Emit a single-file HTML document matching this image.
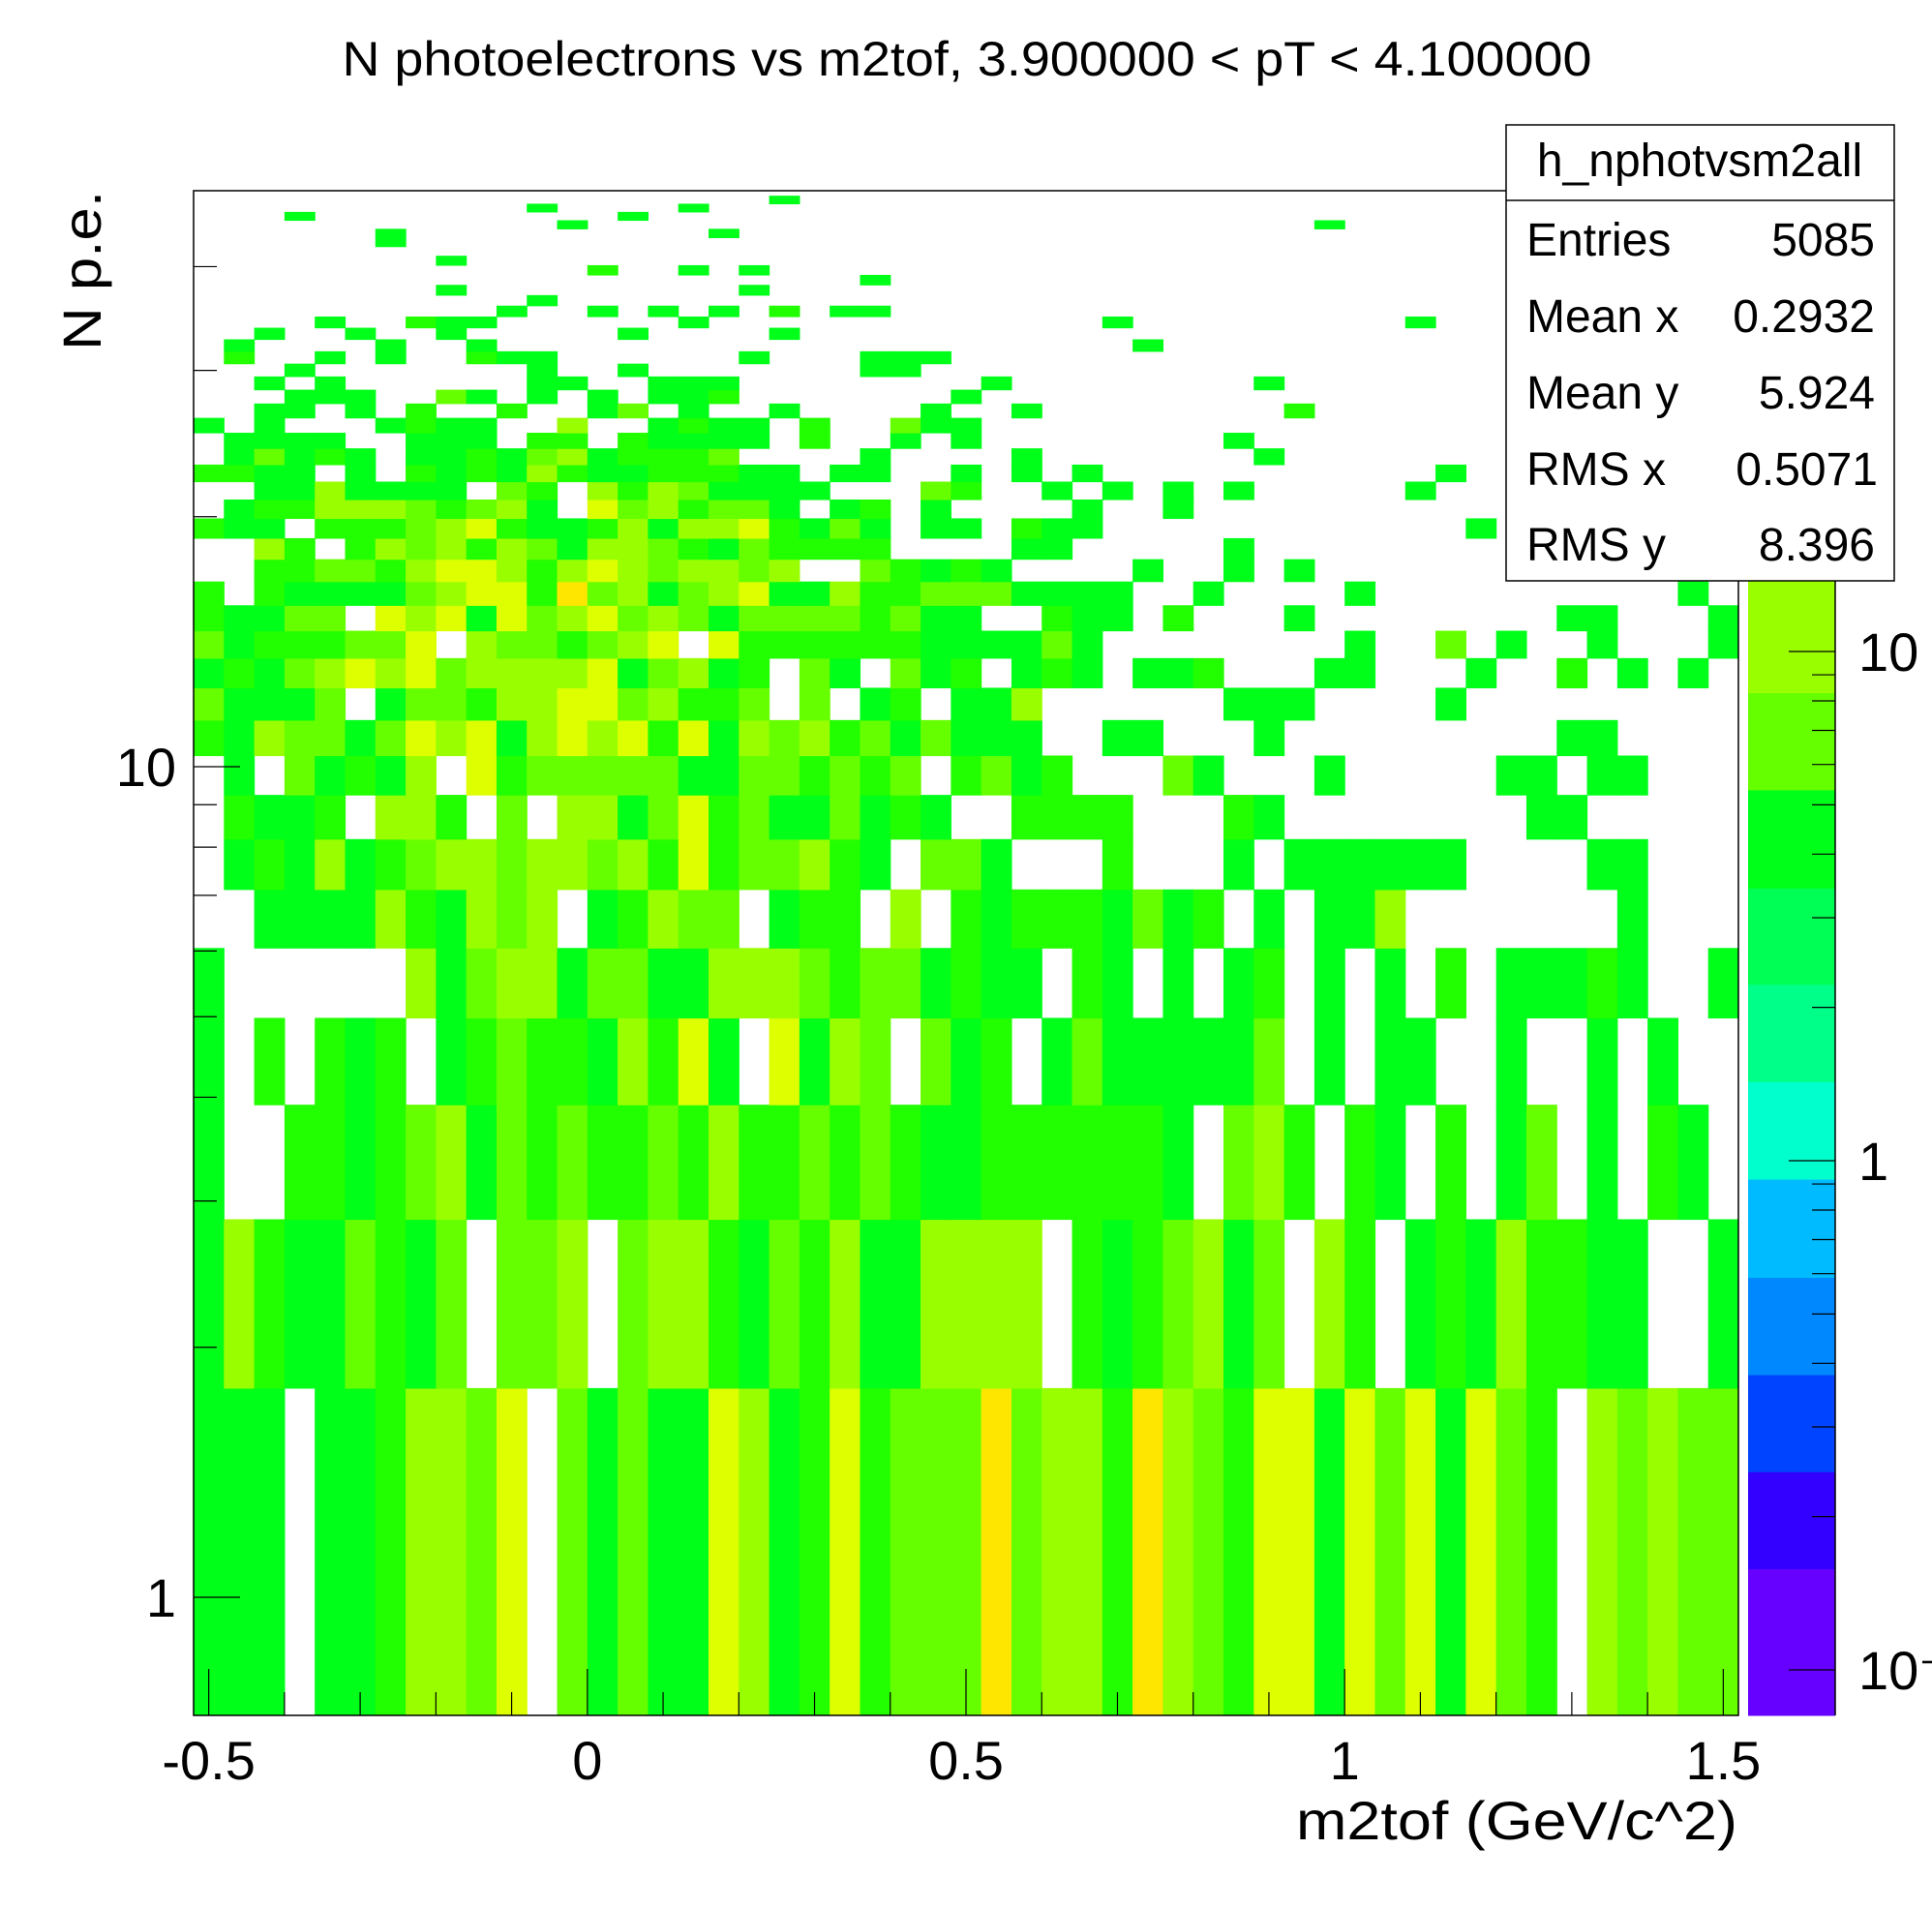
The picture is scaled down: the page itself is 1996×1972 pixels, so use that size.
<!DOCTYPE html>
<html><head><meta charset="utf-8"><style>
html,body{margin:0;padding:0;background:#fff;}
svg{display:block;font-family:"Liberation Sans",Arial,sans-serif;}
</style></head><body>
<svg id="chart" width="1996" height="1972" viewBox="0 0 1996 1972" xmlns="http://www.w3.org/2000/svg">
<defs><clipPath id="plotclip"><rect x="200" y="197" width="1596" height="1575"/></clipPath></defs>
<rect x="0" y="0" width="1996" height="1972" fill="#fff"/>
<text x="999" y="78" font-size="50" text-anchor="middle" textLength="1291" lengthAdjust="spacingAndGlyphs">N photoelectrons vs m2tof, 3.900000 &lt; pT &lt; 4.100000</text>
<g id="cells" clip-path="url(#plotclip)"></g>
<g id="cbar"></g>
<rect x="200" y="197" width="1596" height="1575" fill="none" stroke="#000" stroke-width="1.5"/>
<g id="axes"></g>
<text x="1795" y="1900" font-size="56" text-anchor="end" textLength="456" lengthAdjust="spacingAndGlyphs">m2tof (GeV/c^2)</text>
<text transform="translate(104,197) rotate(-90)" x="0" y="0" font-size="56" text-anchor="end" textLength="165" lengthAdjust="spacingAndGlyphs">N p.e.</text>
<g>
<rect x="1556" y="129" width="401" height="471" fill="#fff" stroke="#000" stroke-width="1.5"/>
<line x1="1556" y1="207" x2="1957" y2="207" stroke="#000" stroke-width="1.5"/>
<text x="1756" y="182" font-size="48" text-anchor="middle">h_nphotvsm2all</text>
<text x="1577" y="264" font-size="48">Entries</text>
<text x="1937" y="264" font-size="48" text-anchor="end">5085</text>
<text x="1577" y="343" font-size="48">Mean x</text>
<text x="1937" y="343" font-size="48" text-anchor="end">0.2932</text>
<text x="1577" y="422" font-size="48">Mean y</text>
<text x="1937" y="422" font-size="48" text-anchor="end">5.924</text>
<text x="1577" y="501" font-size="48">RMS x</text>
<text x="1940" y="501" font-size="48" text-anchor="end">0.5071</text>
<text x="1577" y="579" font-size="48">RMS y</text>
<text x="1937" y="579" font-size="48" text-anchor="end">8.396</text>
</g>
</svg>
<script>
// x bins
const xBinsMin = -0.52;
const xBinWidth = 0.04;
// y bins
const yBinsMin = 0.72;
const yBinWidth = 1.066;
// colour levels (index = level code)
const levelColors = ["none","#00ff19","#22ff00","#66ff00","#99ff00","#ddff00","#ffe600"];
// colour bar bands (bottom to top)
const cbarColors = ["#6600ff","#3300ff","#0044ff","#0088ff","#00bbff","#00ffcc","#00ff88","#00ff55","#00ff19","#66ff00","#99ff00","#ddff00","#ffe600","#ffaa00"];
const cbarEdges = [0.0814,0.158,0.245,0.38,0.59,0.92,1.43,2.22,3.43,5.35,8.3,16,24,36,80];
const xTickLabels = ["-0.5","0","0.5","1","1.5"];
const xTickValues = [-0.5,0,0.5,1,1.5];
const yTickLabels = ["1","10"];
const yTickValues = [1,10];
const zTickLabels = ["10\u207B\u00B9","1","10"];
const zTickValues = [0.1,1,10];
// heatmap level codes per row (row 0 = lowest N p.e. bin), one char per m2tof bin
const rowsData = [
"111.112443|5.31311541|2523336344|2643255153|51532.4343|3",
"142113213.|334.344213|24114444.2|123413.42.|12142211..|1",
"1..2212341|3232232422|3232112222|221.342.21|.2.13.1.21|.",
"1.2.212.12|32214251.5|143.312.13|111113.1.1|1..1..1.1.|.",
"1......413|4413311444|32331211.2|1.1.12.1.1|.2.11121..|1",
"..11114214|34.12433.1|22.4.21222|1312.1.114|.......1..|.",
".121412344|3443425233|421.331...|2...1.1111|11....11..|.",
".2112.442.|3.44135231|13121..222|2...21....|....11....|.",
".1.31214.5|2333331133|2323.2312.|..31...1..|...11.11..|.",
"2143313545|1454525143|42313111..|11...1....|.....11...|.",
"31113.1332|445534223.|3.12.114..|....111...|.1........|.",
"1213454534|444513412.|31.312.121|.112...11.|..1..2.1.1|.",
"31222335.4|332345.522|2222111131|........1.|.3.1..1...|1",
"21133.5451|5345343133|332311..21|1.2...1...|.....11...|1",
"2.21111345|5263413451|1422333111|1..1....1.|.........1|.",
"..22332455|4245434434|..32121...|.1..1.1...|..........|.",
"..42.24342|4314432132|222....11.|....1.....|..........|.",
"211.222345|2112414452|131.11.211|..........|..1.......|.",
".122444323|41.5342331|.12.1....1|..1.......|..........|.",
"..1141111.|32.4243111|1...32..1.|1.1.1.....|1.........|.",
"2211.1.212|1421122211|.11..1.1.1|..........|.1........|.",
".13121.112|13412223..|..1....1..|.....1....|..........|.",
".1111..111|.22.21111.|2..1.1....|....1.....|..........|.",
"1.1...1211|..4..1211.|2..311....|..........|..........|.",
"..11.1.2..|2..13.1..1|....1..1..|......2...|..........|.",
"...111..31|.1.1.112..|.....1....|..........|..........|.",
"..1.1.....|.11..111..|......1...|.....1....|..........|.",
"...1......|.1..1.....|..11......|..........|..........|.",
".2..1.1..2|11......1.|..111.....|..........|..........|.",
".1....1..1|..........|..........|.1........|..........|.",
"..1..1..1.|....1....1|..........|..........|..........|.",
"....1..211|......1...|..........|1.........|1.........|.",
"..........|1..1.1.1.2|.11.......|..........|..........|.",
"..........|.1........|..........|..........|..........|.",
"........1.|........1.|..........|..........|..........|.",
"..........|..........|..1.......|..........|..........|.",
"..........|...2..1.1.|..........|..........|..........|.",
"........1.|..........|..........|..........|..........|.",
"..........|..........|..........|..........|..........|.",
"......1...|..........|..........|..........|..........|.",
"......1...|.......1..|..........|..........|..........|.",
"..........|..1.......|..........|.......1..|..........|.",
"...1......|....1.....|..........|..........|..........|.",
"..........|.1....1...|..........|..........|..........|.",
"..........|.........1|..........|..........|..........|.",
"..........|..........|..........|..........|..........|."
];

const NS = "http://www.w3.org/2000/svg";
function X(v){ return 200 + (v + 0.52) / 2.04 * 1596; }
function Y(v){ return 1650 - 858 * Math.log10(v); }
function Z(v){ return 1199 - 526 * Math.log10(v); }
function mk(tag, attrs, parent){
  const e = document.createElementNS(NS, tag);
  for (const k in attrs) e.setAttribute(k, attrs[k]);
  parent.appendChild(e);
  return e;
}
const cells = document.getElementById('cells');
rowsData.forEach((rs, r) => {
  const s = (rs.replace(/\|/g, '') + '.'.repeat(51)).slice(0, 51);
  const y0 = Y(yBinsMin + r * yBinWidth);
  const y1 = Y(yBinsMin + (r + 1) * yBinWidth);
  for (let c = 0; c < 51; c++) {
    const ch = s[c];
    if (ch === '.') continue;
    const lv = parseInt(ch, 10);
    const xa = X(xBinsMin + c * xBinWidth), xb = X(xBinsMin + (c + 1) * xBinWidth);
    const el = mk('rect', {x: xa.toFixed(2), y: y1.toFixed(2), width: (xb - xa + 0.6).toFixed(2), height: (y0 - y1 + 0.6).toFixed(2), fill: levelColors[lv]}, cells);
    
    
  }
});
// colour bar
const cbar = document.getElementById('cbar');
for (let i = 0; i < cbarColors.length; i++) {
  const ya = Math.min(1772, Z(cbarEdges[i])), yb = Math.max(197, Z(cbarEdges[i + 1]));
  if (ya <= 197) continue;
  const el = mk('rect', {x: 1806, y: yb.toFixed(2), width: 90, height: (ya - yb + 0.5).toFixed(2), fill: cbarColors[i]}, cbar);
  
  
}
mk('line', {x1: 1896, y1: 197, x2: 1896, y2: 1772, stroke: '#000', 'stroke-width': 1.5}, cbar);
// colour bar ticks
[0.1, 1, 10].forEach(d => {
  for (let m = 1; m <= 9; m++) {
    const v = d * m;
    const y = Z(v);
    if (y < 600 || y > 1772) continue;
    mk('line', {x1: 1896, y1: y, x2: m === 1 ? 1848 : 1872, y2: y, stroke: '#000', 'stroke-width': 1.2}, cbar);
  }
});
zTickValues.forEach((v, i) => {
  const t = mk('text', {x: 1920, y: (Z(v) + 20).toFixed(1), 'font-size': 56}, cbar);
  t.textContent = zTickLabels[i];
  
  
});
// axes
const axes = document.getElementById('axes');
for (let k = -5; k <= 15; k++) {
  const v = k / 10;
  const x = X(v);
  const major = (k % 5 === 0);
  mk('line', {x1: x, y1: 1772, x2: x, y2: major ? 1724 : 1748, stroke: '#000', 'stroke-width': 1.2}, axes);
}
xTickValues.forEach((v, i) => {
  const t = mk('text', {x: X(v).toFixed(1), y: 1838, 'font-size': 56, 'text-anchor': 'middle'}, axes);
  t.textContent = xTickLabels[i];
  
  
});
[1, 10].forEach(d => {
  for (let m = 1; m <= 9; m++) {
    const v = d * m;
    const y = Y(v);
    if (y < 197 || y > 1772) continue;
    mk('line', {x1: 200, y1: y, x2: m === 1 ? 248 : 224, y2: y, stroke: '#000', 'stroke-width': 1.2}, axes);
  }
});
yTickValues.forEach((v, i) => {
  const t = mk('text', {x: 182, y: (Y(v) + 20).toFixed(1), 'font-size': 56, 'text-anchor': 'end'}, axes);
  t.textContent = yTickLabels[i];
  
  
});
</script>
</body></html>
